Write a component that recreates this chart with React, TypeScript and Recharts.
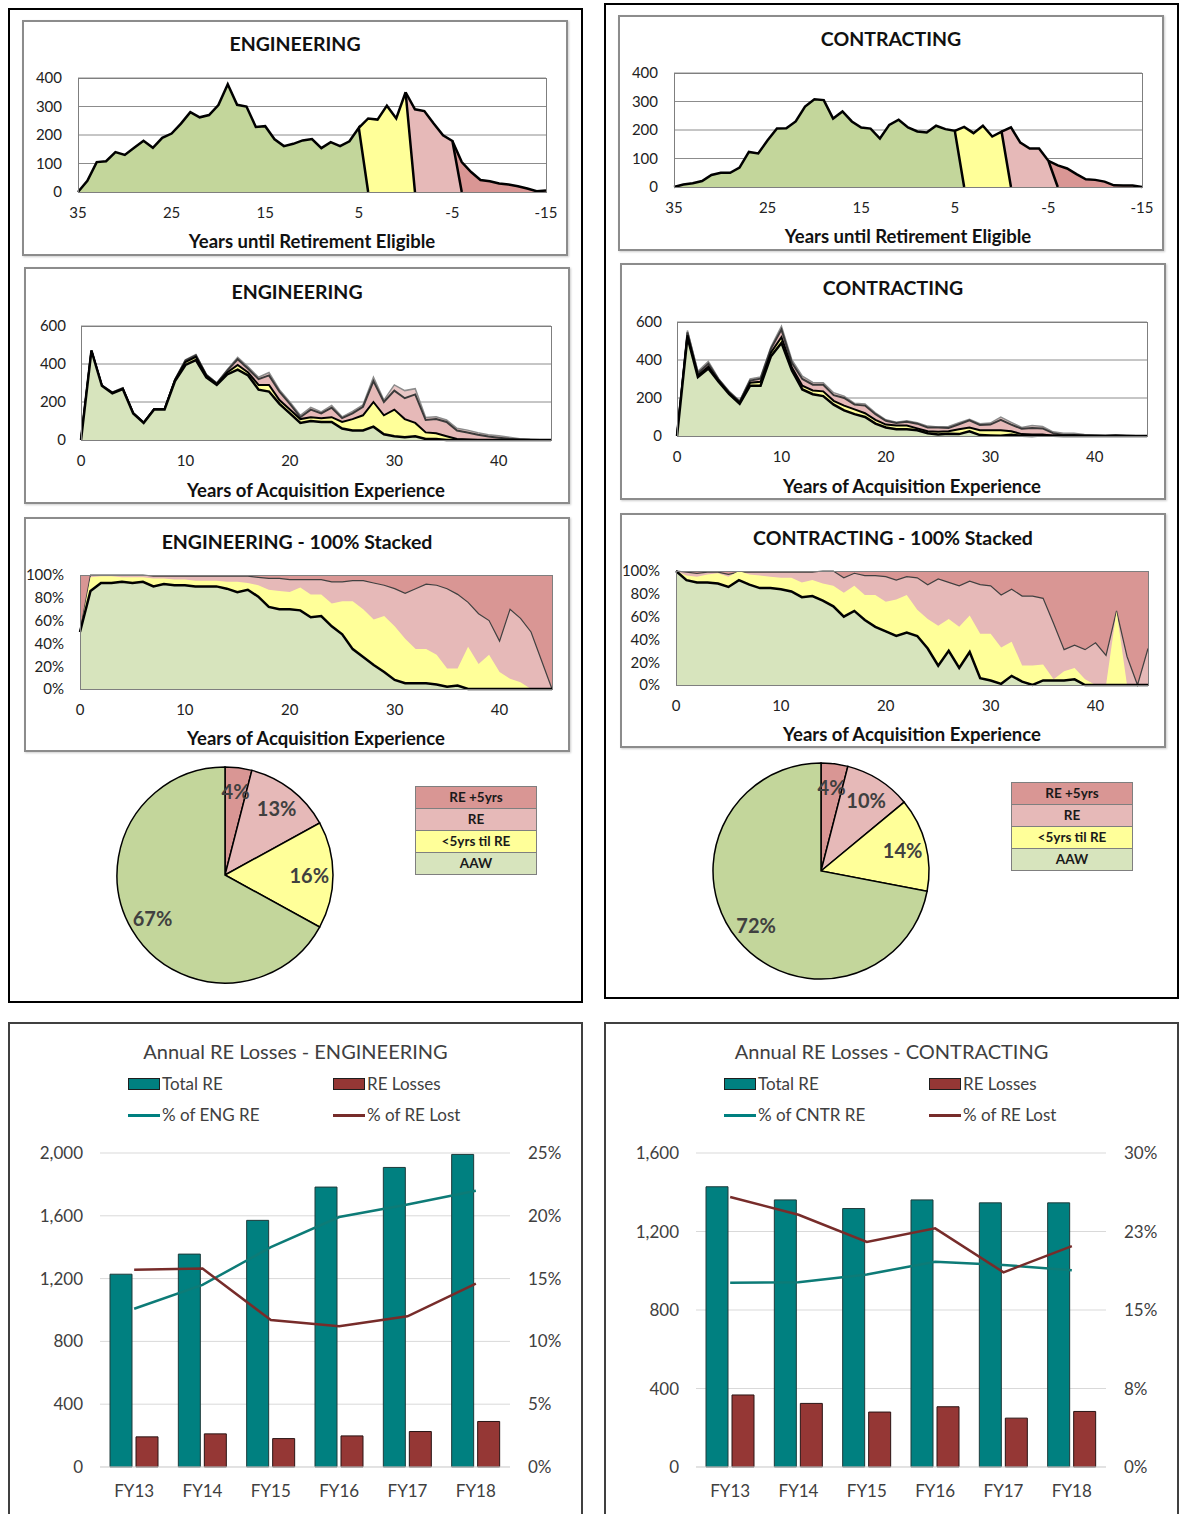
import React from "react";
import {
  Area,
  AreaChart,
  Bar,
  CartesianGrid,
  Cell,
  ComposedChart,
  Line,
  Pie,
  PieChart,
  XAxis,
  YAxis,
} from "recharts";

const FONT = "Lato, 'Open Sans', Arial, sans-serif";

const GREEN = "#c3d69b";
const GREEN_LIGHT = "#d7e4bd";
const YELLOW = "#ffff99";
const PINK = "#e6b9b8";
const RED = "#d99694";
const TEAL = "#008080";
const MAROON = "#953735";

// ---- years until retirement eligible (x axis, left to right) ----
const retireYears = [
  35, 34, 33, 32, 31, 30, 29, 28, 27, 26, 25, 24, 23, 22, 21, 20, 19, 18, 17, 16, 15, 14, 13, 12, 11, 10,
  9, 8, 7, 6, 5, 4, 3, 2, 1, 0, -1, -2, -3, -4, -5, -6, -7, -8, -9, -10, -11, -12, -13, -14, -15,
];

// each band starts at the given year and runs right; it closes with a drop to 0
const engRetAAW = [
  0, 39, 105, 108, 140, 130, 155, 180, 155, 190, 205, 240, 280, 262, 270, 305, 378, 306, 300, 228, 231,
  185, 161, 169, 181, 186, 154, 175, 161, 178, 225, 0,
];
const engRetLt5 = [225, 258, 254, 303, 258, 350, 0];
const engRetRE = [350, 290, 284, 240, 199, 179, 0];
const engRetRE5 = [179, 105, 70, 42, 38, 30, 26, 20, 12, 3, 5];

const cntrRetAAW = [
  0, 9, 13, 21, 42, 50, 50, 68, 123, 118, 164, 205, 206, 230, 282, 308, 305, 240, 265, 230, 209, 205,
  170, 218, 236, 209, 195, 191, 215, 203, 197, 0,
];
const cntrRetLt5 = [197, 211, 189, 215, 177, 194, 0];
const cntrRetRE = [194, 209, 156, 135, 135, 92, 0];
const cntrRetRE5 = [92, 76, 65, 45, 27, 25, 19, 6, 5, 5, 0];

const retireStarts = { aaw: 35, lt5: 5, re: 0, re5: -5 };

// ---- years of acquisition experience ----
const expYears = [
  0, 1, 2, 3, 4, 5, 6, 7, 8, 9, 10, 11, 12, 13, 14, 15, 16, 17, 18, 19, 20, 21, 22, 23, 24, 25, 26, 27,
  28, 29, 30, 31, 32, 33, 34, 35, 36, 37, 38, 39, 40, 41, 42, 43, 44, 45,
];

// headcount, cumulative through each group (AAW, +<5yrs, +RE, +RE+5yrs)
const engExpAAW = [
  0, 470, 285, 245, 268, 140, 90, 160, 160, 310, 395, 420, 330, 290, 345, 370, 340, 265, 255, 190, 140,
  90, 100, 95, 95, 60, 50, 50, 70, 30, 20, 15, 20, 5, 5, 0, 0, 0, 0, 0, 0, 0, 0, 0, 0, 0,
];
const engExpLt5 = [
  0, 470, 285, 248, 270, 140, 90, 162, 162, 315, 410, 438, 338, 295, 355, 395, 355, 290, 290, 210, 160,
  110, 120, 115, 120, 95, 110, 130, 200, 130, 160, 110, 90, 40, 35, 20, 5, 3, 0, 0, 0, 0, 0, 0, 0, 0,
];
const engExpRE = [
  0, 470, 285, 250, 272, 142, 92, 163, 163, 318, 418, 446, 342, 298, 365, 425, 375, 320, 340, 255, 190,
  120, 160, 140, 170, 115, 140, 175, 310, 200, 260, 220, 240, 105, 110, 95, 50, 40, 28, 18, 12, 6, 3, 1,
  0, 0,
];
const engExpTotal = [
  0, 472, 290, 252, 275, 143, 93, 165, 165, 320, 422, 450, 345, 300, 370, 435, 385, 330, 355, 265, 200,
  130, 172, 148, 182, 122, 150, 185, 330, 210, 290, 260, 270, 118, 122, 105, 62, 52, 38, 28, 22, 14, 7,
  2, 0, 0,
];

const cntrExpAAW = [
  0, 520, 310, 355, 285, 220, 170, 265, 265, 420, 490, 345, 245, 220, 210, 165, 135, 115, 100, 65, 45,
  35, 35, 30, 15, 8, 12, 10, 25, 5, 3, 1, 6, 1, 0, 2, 1, 0, 1, 0, 0, 0, 0, 0, 0, 0,
];
const cntrExpLt5 = [
  0, 530, 318, 365, 290, 225, 175, 280, 285, 440, 520, 360, 265, 240, 235, 185, 160, 140, 120, 85, 60,
  55, 55, 40, 25, 22, 25, 35, 45, 30, 30, 30, 25, 10, 8, 8, 2, 2, 2, 1, 0, 0, 2, 0, 0, 0,
];
const cntrExpRE = [
  0, 545, 330, 380, 296, 230, 180, 292, 302, 460, 560, 385, 300, 270, 270, 215, 200, 165, 160, 115, 80,
  68, 75, 65, 45, 45, 42, 62, 82, 58, 60, 85, 60, 38, 42, 40, 15, 5, 5, 3, 2, 1, 2, 1, 0, 0,
];
const cntrExpTotal = [
  0, 555, 340, 392, 300, 235, 185, 300, 310, 470, 578, 400, 315, 282, 280, 228, 210, 172, 168, 122, 85,
  72, 80, 70, 52, 48, 50, 70, 88, 65, 68, 100, 72, 45, 55, 50, 22, 15, 15, 8, 5, 3, 3, 3, 1, 1,
];

// share of headcount (%), cumulative through each group; the rest up to 100% is RE +5yrs
const engShareAAW = [
  50, 86, 93, 93, 94, 93, 94, 90, 92, 91, 91, 90, 90, 90, 88, 85, 87, 81, 72, 70, 70, 69, 63, 64, 55, 48,
  35, 28, 21, 15, 8, 5, 5, 5, 4, 2, 3, 0, 0, 0, 0, 0, 0, 0, 0, 0,
];
const engShareLt5 = [
  50, 98, 99, 99, 98, 98, 98, 97, 97, 96, 96, 95, 95, 95, 94, 94, 93, 91, 87, 86, 85, 89, 83, 83, 75, 77,
  77, 70, 61, 64, 55, 44, 35, 35, 30, 18, 18, 37, 22, 30, 15, 9, 6, 0, 0, 0,
];
const engShareRE = [
  50, 100, 100, 100, 100, 100, 100, 99, 99, 99, 99, 99, 99, 99, 99, 99, 99, 98, 97, 97, 96, 96, 96, 96,
  94, 94, 95, 95, 93, 91, 88, 84, 88, 92, 91, 88, 83, 76, 66, 60, 42, 70, 62, 50, 25, 0,
];

const cntrShareAAW = [
  100, 92, 90, 90, 89, 86, 92, 88, 85, 85, 84, 82, 77, 78, 74, 69, 60, 65, 57, 51, 47, 43, 46, 43, 32,
  17, 30, 15, 29, 6, 4, 1, 8, 3, 0, 4, 4, 4, 5, 0, 0, 0, 0, 0, 0, 0,
];
const cntrShareLt5 = [
  100, 96, 95, 97, 98, 95, 100, 97, 96, 95, 94, 94, 90, 92, 89, 87, 81, 87, 79, 79, 73, 75, 79, 66, 58,
  52, 58, 51, 61, 45, 45, 33, 38, 17, 17, 18, 5, 12, 15, 5, 0, 0, 65, 0, 0, 0,
];
const cntrShareRE = [
  100, 99, 98, 99, 99, 97, 99, 99, 99, 99, 99, 99, 99, 99, 100, 100, 94, 98, 96, 96, 95, 92, 95, 94, 88,
  93, 90, 87, 91, 88, 87, 79, 84, 78, 78, 76, 54, 31, 35, 31, 37, 26, 65, 25, 0, 32,
];

// ---- pies ----
const pieGroups = ["RE +5yrs", "RE", "<5yrs til RE", "AAW"];
const pieColors = [RED, PINK, YELLOW, GREEN];
const engPie = [4, 13, 16, 67];
const cntrPie = [4, 10, 14, 72];

// ---- annual RE losses ----
const fiscalYears = ["FY13", "FY14", "FY15", "FY16", "FY17", "FY18"];
const engTotalRE = [1228, 1356, 1571, 1783, 1908, 1991];
const engRELosses = [192, 211, 181, 198, 226, 290];
const engPctOfDept = [12.6, 14.5, 17.5, 19.9, 20.9, 22.0];
const engPctLost = [15.7, 15.8, 11.7, 11.2, 12.0, 14.6];
const cntrTotalRE = [1428, 1361, 1317, 1361, 1346, 1346];
const cntrRELosses = [367, 324, 280, 307, 249, 283];
const cntrPctOfDept = [17.6, 17.65, 18.4, 19.6, 19.3, 18.8];
const cntrPctLost = [25.8, 24.1, 21.5, 22.8, 18.6, 21.1];

function fromYear(start: number, values: number[]) {
  return (year: number) => {
    const i = start - year;
    return i >= 0 && i < values.length ? values[i] : null;
  };
}

function retireRows(aaw: number[], lt5: number[], re: number[], re5: number[]) {
  const a = fromYear(retireStarts.aaw, aaw);
  const b = fromYear(retireStarts.lt5, lt5);
  const c = fromYear(retireStarts.re, re);
  const d = fromYear(retireStarts.re5, re5);
  return retireYears.map((year) => ({ year, aaw: a(year), lt5: b(year), re: c(year), re5: d(year) }));
}

function expRows(aaw: number[], lt5: number[], re: number[], total: number[]) {
  return expYears.map((year, i) => ({ year, aaw: aaw[i], lt5: lt5[i], re: re[i], total: total[i] }));
}

const tickStyle = { fill: "#222", fontSize: 15, fontFamily: FONT };

type Plot = { x: number; y: number; w: number; h: number };

function ChartBox({ left, top, width, height, title, axisTitle, plot, titleY, axisY, children }: any) {
  return (
    <div style={{ position: "absolute", left, top, width, height }}>
      <div
        style={{
          position: "absolute",
          inset: 0,
          border: "2px solid #8c8c8c",
          boxSizing: "border-box",
          boxShadow: "1px 1px 2px rgba(0,0,0,0.2)",
        }}
      />
      <div style={{ position: "absolute", left: 0, top: 0 }}>{children}</div>
      <div
        style={{
          position: "absolute",
          left: plot.x,
          top: plot.y,
          width: plot.w + 1,
          height: plot.h + 1,
          border: "1px solid #7f7f7f",
          boxSizing: "border-box",
          pointerEvents: "none",
        }}
      />
      <div
        style={{
          position: "absolute",
          left: 0,
          width,
          top: titleY - 13,
          height: 26,
          lineHeight: "26px",
          textAlign: "center",
          fontWeight: 700,
          fontSize: 19.5,
          color: "#111",
        }}
      >
        {title}
      </div>
      <div
        style={{
          position: "absolute",
          left: plot.x,
          width: plot.w,
          top: axisY - 12,
          height: 24,
          lineHeight: "24px",
          textAlign: "center",
          fontWeight: 700,
          fontSize: 18.5,
          color: "#111",
        }}
      >
        {axisTitle}
      </div>
    </div>
  );
}

function marginFor(plot: Plot, width: number, height: number, yW: number, xH: number) {
  return {
    top: plot.y,
    left: plot.x - yW,
    right: width - plot.x - plot.w,
    bottom: height - plot.y - plot.h - xH,
  };
}

function RetireChart({ left, top, title, rows }: any) {
  const W = 546;
  const H = 236;
  const plot = { x: 56, y: 58, w: 468, h: 114 };
  const line = { stroke: "#000", strokeWidth: 2.5, fillOpacity: 1, isAnimationActive: false, type: "linear" as const };
  return (
    <ChartBox left={left} top={top} width={W} height={H} title={title} axisTitle="Years until Retirement Eligible" plot={plot} titleY={24} axisY={221}>
      <AreaChart width={W} height={H} data={rows} margin={marginFor(plot, W, H, 36, 30)}>
        <CartesianGrid vertical={false} stroke="#8c8c8c" />
        <XAxis
          type="number"
          dataKey="year"
          domain={[-15, 35]}
          reversed
          ticks={[35, 25, 15, 5, -5, -15]}
          interval={0}
          tickLine={false}
          axisLine={false}
          tick={tickStyle}
          tickMargin={9}
          height={30}
        />
        <YAxis domain={[0, 400]} ticks={[0, 100, 200, 300, 400]} interval={0} width={36} tickLine={false} axisLine={false} tick={tickStyle} tickMargin={10} />
        <Area dataKey="re5" fill={RED} {...line} />
        <Area dataKey="re" fill={PINK} {...line} />
        <Area dataKey="lt5" fill={YELLOW} {...line} />
        <Area dataKey="aaw" fill={GREEN} {...line} />
      </AreaChart>
    </ChartBox>
  );
}

function ExpChart({ left, top, title, rows }: any) {
  const W = 546;
  const H = 237;
  const plot = { x: 57, y: 59, w: 470, h: 114 };
  const base = { fillOpacity: 1, isAnimationActive: false, type: "linear" as const };
  return (
    <ChartBox left={left} top={top} width={W} height={H} title={title} axisTitle="Years of Acquisition Experience" plot={plot} titleY={25} axisY={223}>
      <AreaChart width={W} height={H} data={rows} margin={marginFor(plot, W, H, 37, 30)}>
        <CartesianGrid vertical={false} stroke="#8c8c8c" />
        <XAxis type="number" dataKey="year" domain={[0, 45]} ticks={[0, 10, 20, 30, 40]} interval={0} tickLine={false} axisLine={false} tick={tickStyle} tickMargin={9} height={30} />
        <YAxis domain={[0, 600]} ticks={[0, 200, 400, 600]} interval={0} width={37} tickLine={false} axisLine={false} tick={tickStyle} tickMargin={9} />
        <Area dataKey="total" fill="#e9c7c6" stroke="#8c8c8c" strokeWidth={1.5} {...base} />
        <Area dataKey="re" fill={PINK} stroke="#3a3a3a" strokeWidth={2} {...base} />
        <Area dataKey="lt5" fill={YELLOW} stroke="#000" strokeWidth={2} {...base} />
        <Area dataKey="aaw" fill={GREEN_LIGHT} stroke="#000" strokeWidth={2.5} {...base} />
      </AreaChart>
    </ChartBox>
  );
}

function ShareChart({ left, top, title, rows }: any) {
  const W = 546;
  const H = 235;
  const plot = { x: 56, y: 58, w: 472, h: 114 };
  const base = { fillOpacity: 1, isAnimationActive: false, type: "linear" as const };
  return (
    <ChartBox left={left} top={top} width={W} height={H} title={title} axisTitle="Years of Acquisition Experience" plot={plot} titleY={25} axisY={221}>
      <AreaChart width={W} height={H} data={rows} margin={marginFor(plot, W, H, 42, 30)}>
        <CartesianGrid horizontal={false} vertical={false} fill={RED} fillOpacity={1} />
        <XAxis type="number" dataKey="year" domain={[0, 45]} ticks={[0, 10, 20, 30, 40]} interval={0} tickLine={false} axisLine={false} tick={tickStyle} tickMargin={9} height={30} />
        <YAxis
          domain={[0, 100]}
          ticks={[0, 20, 40, 60, 80, 100]}
          interval={0}
          width={42}
          tickLine={false}
          axisLine={false}
          tick={tickStyle}
          tickMargin={10}
          tickFormatter={(v: number) => `${v}%`}
        />
        <Area dataKey="re" fill={PINK} stroke="#404040" strokeWidth={1.2} {...base} />
        <Area dataKey="lt5" fill={YELLOW} stroke="none" {...base} />
        <Area dataKey="aaw" fill={GREEN_LIGHT} stroke="#000" strokeWidth={2.5} {...base} />
      </AreaChart>
    </ChartBox>
  );
}

const RADIAN = Math.PI / 180;

function pieLabel({ cx, cy, midAngle, outerRadius, value }: any) {
  const r = outerRadius * 0.78;
  const x = cx + r * Math.cos(-midAngle * RADIAN);
  const y = cy + r * Math.sin(-midAngle * RADIAN);
  return (
    <text x={x} y={y} textAnchor="middle" dominantBaseline="central" fill="#404040" fontSize={20} fontWeight={700} fontFamily={FONT}>
      {`${value}%`}
    </text>
  );
}

function SharePie({ left, top, values }: any) {
  const rows = pieGroups.map((name, i) => ({ name, value: values[i] }));
  return (
    <div style={{ position: "absolute", left, top }}>
      <PieChart width={240} height={240} margin={{ top: 0, right: 0, bottom: 0, left: 0 }}>
        <Pie
          data={rows}
          dataKey="value"
          nameKey="name"
          cx={120}
          cy={120}
          outerRadius={108}
          startAngle={90}
          endAngle={-270}
          stroke="#000"
          strokeWidth={1.5}
          label={pieLabel}
          labelLine={false}
          isAnimationActive={false}
        >
          {rows.map((r, i) => (
            <Cell key={r.name} fill={pieColors[i]} />
          ))}
        </Pie>
      </PieChart>
    </div>
  );
}

function GroupKey({ left, top }: any) {
  return (
    <div style={{ position: "absolute", left, top, width: 122, border: "1.5px solid #7f7f7f", boxSizing: "border-box" }}>
      {pieGroups.map((name, i) => (
        <div
          key={name}
          style={{
            height: 21,
            lineHeight: "21px",
            background: i === 3 ? GREEN_LIGHT : pieColors[i],
            borderTop: i === 0 ? "none" : "1.5px solid #7f7f7f",
            textAlign: "center",
            fontSize: 13.5,
            fontWeight: 700,
            color: "#1a1a1a",
          }}
        >
          {name}
        </div>
      ))}
    </div>
  );
}

function LossChart({ left, title, deptLabel, total, losses, pctDept, pctLost, leftMax, leftTicks, rightMax, rightTicks }: any) {
  const rows = fiscalYears.map((fy, i) => ({ fy, total: total[i], losses: losses[i], pctDept: pctDept[i], pctLost: pctLost[i] }));
  const axisTick = { fill: "#404040", fontSize: 17, fontFamily: FONT };
  const legendText: any = { position: "absolute", fontSize: 17, color: "#404040", lineHeight: "20px" };
  return (
    <>
      <div style={{ position: "absolute", left, top: 1022, width: 575, height: 520, border: "2px solid #404040", boxSizing: "border-box" }} />
      <div style={{ position: "absolute", left, top: 1038, width: 575, textAlign: "center", fontSize: 20, color: "#404040", lineHeight: "26px" }}>
        {title}
      </div>
      <div style={{ position: "absolute", left: left + 120, top: 1078, width: 32, height: 12, background: TEAL, border: "1px solid #1e1e1e", boxSizing: "border-box" }} />
      <div style={{ ...legendText, left: left + 154, top: 1074 }}>Total RE</div>
      <div style={{ position: "absolute", left: left + 325, top: 1078, width: 32, height: 12, background: MAROON, border: "1px solid #1e1e1e", boxSizing: "border-box" }} />
      <div style={{ ...legendText, left: left + 359, top: 1074 }}>RE Losses</div>
      <div style={{ position: "absolute", left: left + 120, top: 1114, width: 32, height: 3, background: TEAL }} />
      <div style={{ ...legendText, left: left + 154, top: 1105 }}>{`% of ${deptLabel} RE`}</div>
      <div style={{ position: "absolute", left: left + 325, top: 1114, width: 32, height: 3, background: "#772c2a" }} />
      <div style={{ ...legendText, left: left + 359, top: 1105 }}>% of RE Lost</div>
      <div style={{ position: "absolute", left, top: 1130 }}>
        <ComposedChart width={574} height={384} data={rows} margin={{ top: 23, right: 12, bottom: 17, left: 12 }} barGap={4}>
          <CartesianGrid yAxisId="left" vertical={false} stroke="#d9d9d9" />
          <XAxis dataKey="fy" tickLine={false} axisLine={{ stroke: "#d9d9d9" }} tick={axisTick} tickMargin={12} height={30} />
          <YAxis
            yAxisId="left"
            domain={[0, leftMax]}
            ticks={leftTicks}
            interval={0}
            width={80}
            tickLine={false}
            axisLine={false}
            tick={axisTick}
            tickMargin={11}
            tickFormatter={(v: number) => v.toLocaleString("en-US")}
          />
          <YAxis
            yAxisId="right"
            orientation="right"
            domain={[0, rightMax]}
            ticks={rightTicks}
            interval={0}
            width={60}
            tickLine={false}
            axisLine={false}
            tick={{ ...axisTick, textAnchor: "start" }}
            tickMargin={12}
            tickFormatter={(v: number) => `${Math.round(v)}%`}
          />
          <Bar yAxisId="left" dataKey="total" fill={TEAL} stroke="#1e3a3a" strokeWidth={1} barSize={22} isAnimationActive={false} />
          <Bar yAxisId="left" dataKey="losses" fill={MAROON} stroke="#2a1414" strokeWidth={1} barSize={22} isAnimationActive={false} />
          <Line yAxisId="right" dataKey="pctDept" type="linear" stroke="#0d7b77" strokeWidth={2.5} dot={false} isAnimationActive={false} />
          <Line yAxisId="right" dataKey="pctLost" type="linear" stroke="#772c2a" strokeWidth={2.5} dot={false} isAnimationActive={false} />
        </ComposedChart>
      </div>
    </>
  );
}

export default function App() {
  const engRet = retireRows(engRetAAW, engRetLt5, engRetRE, engRetRE5);
  const cntrRet = retireRows(cntrRetAAW, cntrRetLt5, cntrRetRE, cntrRetRE5);
  const engExp = expRows(engExpAAW, engExpLt5, engExpRE, engExpTotal);
  const cntrExp = expRows(cntrExpAAW, cntrExpLt5, cntrExpRE, cntrExpTotal);
  const engShare = expRows(engShareAAW, engShareLt5, engShareRE, engShareRE);
  const cntrShare = expRows(cntrShareAAW, cntrShareLt5, cntrShareRE, cntrShareRE);

  return (
    <div style={{ position: "absolute", left: 0, top: 0, width: 1182, height: 1514, overflow: "hidden", background: "#fff", fontFamily: FONT }}>
      <div style={{ position: "absolute", left: 8, top: 8, width: 575, height: 995, border: "2px solid #000", boxSizing: "border-box" }} />
      <div style={{ position: "absolute", left: 604, top: 3, width: 575, height: 996, border: "2px solid #000", boxSizing: "border-box" }} />

      <RetireChart left={22} top={20} title="ENGINEERING" rows={engRet} />
      <ExpChart left={24} top={267} title="ENGINEERING" rows={engExp} />
      <ShareChart left={24} top={517} title="ENGINEERING - 100% Stacked" rows={engShare} />
      <SharePie left={105} top={755} values={engPie} />
      <GroupKey left={415} top={786} />

      <RetireChart left={618} top={15} title="CONTRACTING" rows={cntrRet} />
      <ExpChart left={620} top={263} title="CONTRACTING" rows={cntrExp} />
      <ShareChart left={620} top={513} title="CONTRACTING - 100% Stacked" rows={cntrShare} />
      <SharePie left={701} top={751} values={cntrPie} />
      <GroupKey left={1011} top={782} />

      <LossChart
        left={8}
        title="Annual RE Losses - ENGINEERING"
        deptLabel="ENG"
        total={engTotalRE}
        losses={engRELosses}
        pctDept={engPctOfDept}
        pctLost={engPctLost}
        leftMax={2000}
        leftTicks={[0, 400, 800, 1200, 1600, 2000]}
        rightMax={25}
        rightTicks={[0, 5, 10, 15, 20, 25]}
      />
      <LossChart
        left={604}
        title="Annual RE Losses - CONTRACTING"
        deptLabel="CNTR"
        total={cntrTotalRE}
        losses={cntrRELosses}
        pctDept={cntrPctOfDept}
        pctLost={cntrPctLost}
        leftMax={1600}
        leftTicks={[0, 400, 800, 1200, 1600]}
        rightMax={30}
        rightTicks={[0, 7.5, 15, 22.5, 30]}
      />
    </div>
  );
}
